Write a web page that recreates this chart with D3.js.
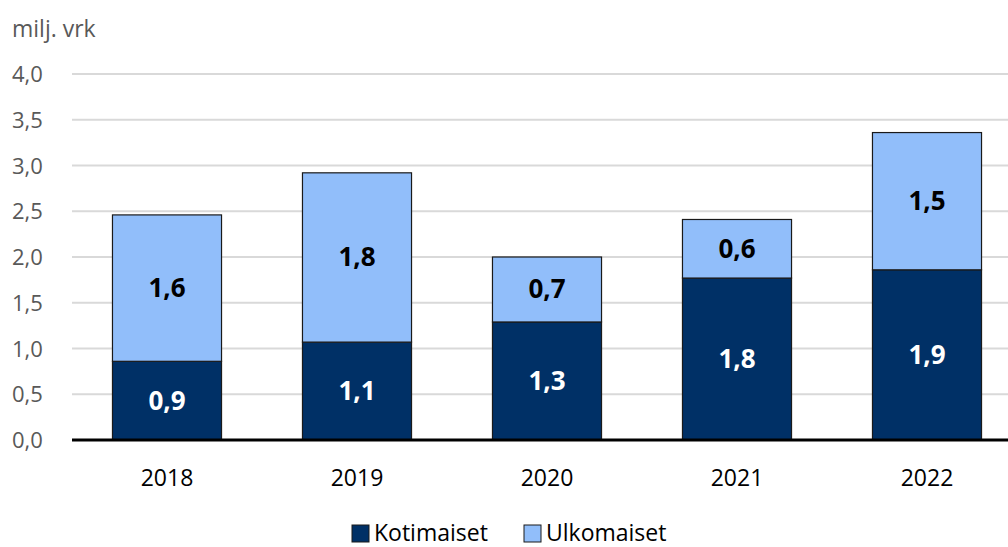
<!DOCTYPE html>
<html>
<head>
<meta charset="utf-8">
<script src="https://cdn.jsdelivr.net/npm/d3@7"></script>
<style>
  body { margin: 0; background: #fff; }
  text { font-family: "Open Sans", "Noto Sans", sans-serif; }
</style>
</head>
<body>
<div id="chart"></div>
<script>
// Data (milj. vrk)
var years = ["2018", "2019", "2020", "2021", "2022"];
var kotimaiset = [0.86, 1.07, 1.29, 1.77, 1.86];
var ulkomaiset = [1.60, 1.85, 0.71, 0.64, 1.50];
var yTicks = [0, 0.5, 1, 1.5, 2, 2.5, 3, 3.5, 4];
var seriesNames = ["Kotimaiset", "Ulkomaiset"];
var colors = {Kotimaiset: "#003066", Ulkomaiset: "#91BEFA"};

var width = 1008, height = 547;
var margin = {top: 74, right: -14, bottom: 107, left: 72};

var svg = d3.select("#chart").append("svg")
  .attr("width", width)
  .attr("height", height);

var x = d3.scaleBand()
  .domain(years)
  .range([margin.left, width - margin.right])
  .paddingInner(0.426)
  .paddingOuter(0.213);

var y = d3.scaleLinear()
  .domain([0, 4])
  .range([height - margin.bottom, margin.top]);

var fmt = function (v) { return d3.format(".1f")(v).replace(".", ","); };

// gridlines + y labels
svg.append("g").selectAll("line")
  .data(yTicks.filter(function (d) { return d > 0; }))
  .enter().append("line")
  .attr("x1", margin.left).attr("x2", width)
  .attr("y1", function (d) { return y(d); })
  .attr("y2", function (d) { return y(d); })
  .attr("stroke", "#d9d9d9")
  .attr("stroke-width", 2);

svg.append("g").selectAll("text")
  .data(yTicks)
  .enter().append("text")
  .attr("x", 12)
  .attr("y", function (d) { return y(d) + 8; })
  .attr("font-size", 22)
  .attr("fill", "#595959")
  .text(fmt);

svg.append("text")
  .attr("x", 12).attr("y", 37)
  .attr("font-size", 23)
  .attr("fill", "#595959")
  .text("milj. vrk");

// stacked bars
var rows = years.map(function (yr, i) {
  return {year: yr, Kotimaiset: kotimaiset[i], Ulkomaiset: ulkomaiset[i]};
});
var stacked = d3.stack().keys(seriesNames)(rows);

var layer = svg.append("g").selectAll("g")
  .data(stacked)
  .enter().append("g")
  .attr("fill", function (d) { return colors[d.key]; });

layer.selectAll("rect")
  .data(function (d) { return d; })
  .enter().append("rect")
  .attr("x", function (d) { return x(d.data.year); })
  .attr("width", x.bandwidth())
  .attr("y", function (d) { return y(d[1]); })
  .attr("height", function (d) { return y(d[0]) - y(d[1]); })
  .attr("stroke", "#1a1a1a")
  .attr("stroke-width", 1.2);

layer.selectAll("text")
  .data(function (d) { return d.map(function (p) { p.key = d.key; return p; }); })
  .enter().append("text")
  .attr("x", function (d) { return x(d.data.year) + x.bandwidth() / 2; })
  .attr("y", function (d) { return (y(d[0]) + y(d[1])) / 2 + 9; })
  .attr("text-anchor", "middle")
  .attr("font-size", 26)
  .attr("font-weight", "bold")
  .attr("fill", function (d) { return d.key === "Kotimaiset" ? "#ffffff" : "#000000"; })
  .text(function (d) { return fmt(d[1] - d[0]); });

// x axis line
svg.append("line")
  .attr("x1", margin.left).attr("x2", width)
  .attr("y1", y(0)).attr("y2", y(0))
  .attr("stroke", "#000")
  .attr("stroke-width", 3);

svg.append("g").selectAll("text")
  .data(years)
  .enter().append("text")
  .attr("x", function (d) { return x(d) + x.bandwidth() / 2; })
  .attr("y", 486)
  .attr("text-anchor", "middle")
  .attr("font-size", 23)
  .attr("fill", "#000")
  .text(function (d) { return d; });

// Legend
var legendX = [352, 524];
var legend = svg.append("g").selectAll("g")
  .data(seriesNames)
  .enter().append("g")
  .attr("transform", function (d, i) { return "translate(" + legendX[i] + ",525)"; });
legend.append("rect")
  .attr("width", 17).attr("height", 17)
  .attr("fill", function (d) { return colors[d]; })
  .attr("stroke", "#1a1a1a").attr("stroke-width", 1);
legend.append("text")
  .attr("x", 22).attr("y", 16)
  .attr("font-size", 23)
  .attr("fill", "#000")
  .text(function (d) { return d; });
</script>
</body>
</html>
